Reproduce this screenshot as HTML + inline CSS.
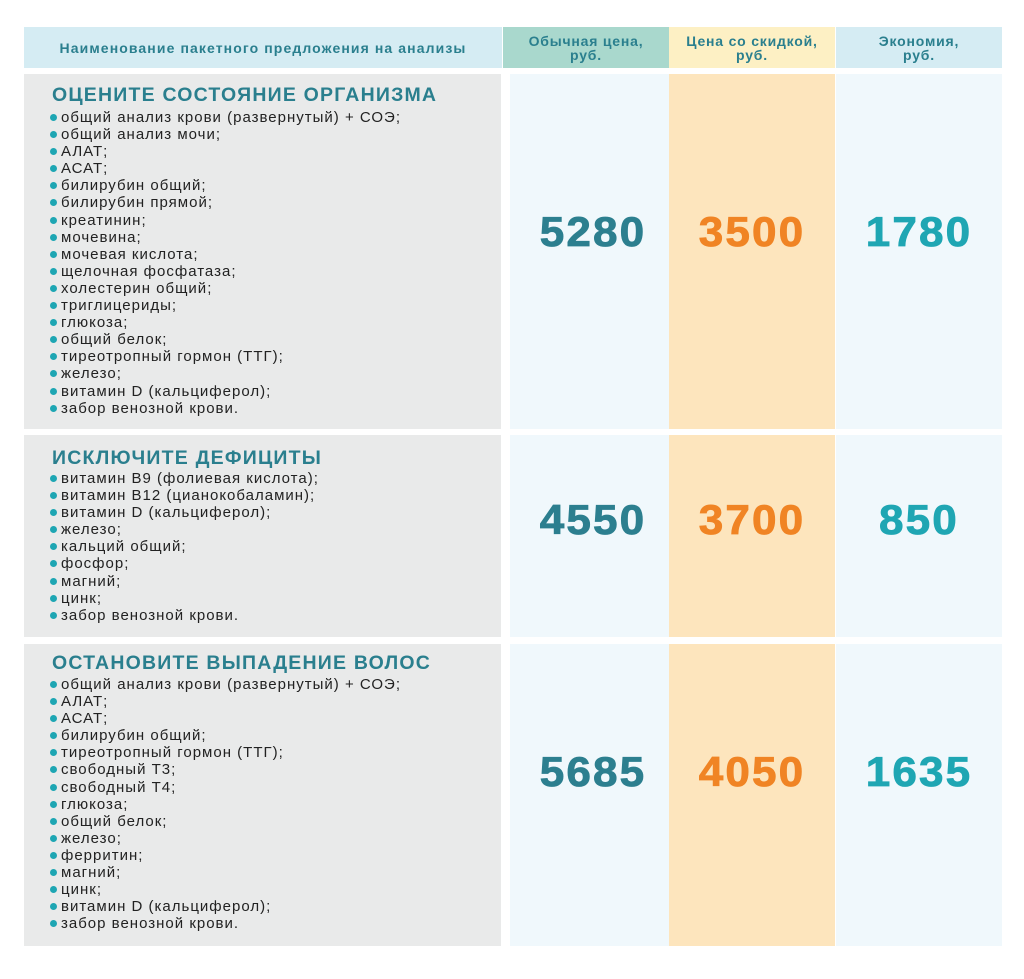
<!DOCTYPE html>
<html><head><meta charset="utf-8"><style>
body{margin:0;width:1024px;height:979px;background:#fff;position:relative;font-family:"Liberation Sans",sans-serif;overflow:hidden}
.b{position:absolute}
.h{position:absolute;top:27px;height:41px;display:flex;align-items:center;justify-content:center;text-align:center;color:#2a7f8e;font-weight:bold;font-size:14px;line-height:14px;letter-spacing:0.8px}
.num{position:absolute;font-weight:bold;font-size:42px;letter-spacing:2px;text-align:center;line-height:44px;transform:scaleX(1.05);-webkit-text-stroke:0.8px currentColor}
.t{position:absolute;left:52px;color:#2a7f8e;font-weight:bold;font-size:19.5px;line-height:22px;letter-spacing:1.2px}
ul{position:absolute;left:50px;margin:0;padding:0;list-style:none;font-size:15px;line-height:17.1px;color:#222;letter-spacing:1px;white-space:nowrap}
li:before{content:"";display:inline-block;width:7px;height:7px;border-radius:50%;background:#1ea6b3;margin-right:4px;vertical-align:1px}
</style></head><body>
<div class="h" style="left:24px;width:478px;background:#d5ecf3;letter-spacing:1.1px">Наименование пакетного предложения на анализы</div>
<div class="h" style="left:503px;width:166px;background:#a9d8cd">Обычная цена,<br>руб.</div>
<div class="h" style="left:669px;width:166px;background:#fdf0c4">Цена со скидкой,<br>руб.</div>
<div class="h" style="left:836px;width:166px;background:#d5ecf3">Экономия,<br>руб.</div>

<div class="b" style="left:24px;top:74px;width:477px;height:355px;background:#e9eaea"></div>
<div class="b" style="left:24px;top:435px;width:477px;height:202px;background:#e9eaea"></div>
<div class="b" style="left:24px;top:644px;width:477px;height:302px;background:#e9eaea"></div>

<div class="b" style="left:510px;top:74px;width:159px;height:355px;background:#f0f8fc"></div>
<div class="b" style="left:510px;top:435px;width:159px;height:202px;background:#f0f8fc"></div>
<div class="b" style="left:510px;top:644px;width:159px;height:302px;background:#f0f8fc"></div>
<div class="b" style="left:669px;top:74px;width:166px;height:355px;background:#fde5bd"></div>
<div class="b" style="left:669px;top:435px;width:166px;height:202px;background:#fde5bd"></div>
<div class="b" style="left:669px;top:644px;width:166px;height:302px;background:#fde5bd"></div>
<div class="b" style="left:836px;top:74px;width:166px;height:355px;background:#f0f8fc"></div>
<div class="b" style="left:836px;top:435px;width:166px;height:202px;background:#f0f8fc"></div>
<div class="b" style="left:836px;top:644px;width:166px;height:302px;background:#f0f8fc"></div>

<div class="t" style="top:84px">ОЦЕНИТЕ СОСТОЯНИЕ ОРГАНИЗМА</div>
<ul style="top:109px">
<li>общий анализ крови (развернутый) + СОЭ;</li><li>общий анализ мочи;</li><li>АЛАТ;</li><li>АСАТ;</li><li>билирубин общий;</li><li>билирубин прямой;</li><li>креатинин;</li><li>мочевина;</li><li>мочевая кислота;</li><li>щелочная фосфатаза;</li><li>холестерин общий;</li><li>триглицериды;</li><li>глюкоза;</li><li>общий белок;</li><li>тиреотропный гормон (ТТГ);</li><li>железо;</li><li>витамин D (кальциферол);</li><li>забор венозной крови.</li>
</ul>
<div class="t" style="top:447px">ИСКЛЮЧИТЕ ДЕФИЦИТЫ</div>
<ul style="top:470px">
<li>витамин В9 (фолиевая кислота);</li><li>витамин В12 (цианокобаламин);</li><li>витамин D (кальциферол);</li><li>железо;</li><li>кальций общий;</li><li>фосфор;</li><li>магний;</li><li>цинк;</li><li>забор венозной крови.</li>
</ul>
<div class="t" style="top:652px">ОСТАНОВИТЕ ВЫПАДЕНИЕ ВОЛОС</div>
<ul style="top:676px">
<li>общий анализ крови (развернутый) + СОЭ;</li><li>АЛАТ;</li><li>АСАТ;</li><li>билирубин общий;</li><li>тиреотропный гормон (ТТГ);</li><li>свободный Т3;</li><li>свободный Т4;</li><li>глюкоза;</li><li>общий белок;</li><li>железо;</li><li>ферритин;</li><li>магний;</li><li>цинк;</li><li>витамин D (кальциферол);</li><li>забор венозной крови.</li>
</ul>

<div class="num" style="left:510px;width:166px;top:210px;color:#2c7f8f">5280</div>
<div class="num" style="left:669px;width:166px;top:210px;color:#f08424">3500</div>
<div class="num" style="left:836px;width:166px;top:210px;color:#1fa6b3">1780</div>
<div class="num" style="left:510px;width:166px;top:498px;color:#2c7f8f">4550</div>
<div class="num" style="left:669px;width:166px;top:498px;color:#f08424">3700</div>
<div class="num" style="left:836px;width:166px;top:498px;color:#1fa6b3">850</div>
<div class="num" style="left:510px;width:166px;top:750px;color:#2c7f8f">5685</div>
<div class="num" style="left:669px;width:166px;top:750px;color:#f08424">4050</div>
<div class="num" style="left:836px;width:166px;top:750px;color:#1fa6b3">1635</div>
</body></html>
